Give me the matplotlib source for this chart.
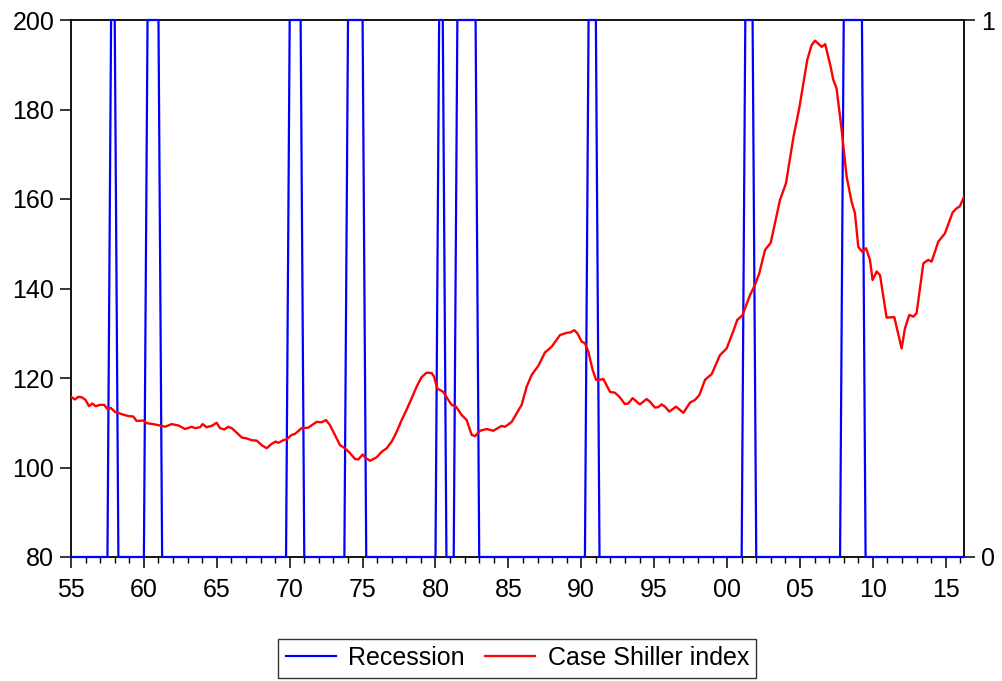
import numpy as np
import matplotlib
matplotlib.use('Agg')
import matplotlib.pyplot as plt
from matplotlib.lines import Line2D
from matplotlib.ticker import FixedLocator, MultipleLocator, FuncFormatter

plt.rcParams['font.family'] = ['Liberation Sans', 'DejaVu Sans']

# recession quarters (indicator = 1), as (first, last) quarter in decimal years
REC_START = [1957.75, 1960.25, 1970.0, 1974.0, 1980.25, 1981.5, 1990.5, 2001.25, 2008.0]
REC_END = [1958.0, 1961.0, 1970.75, 1975.0, 1980.5, 1982.75, 1991.0, 2001.75, 2009.25]

# Case Shiller index
CS_YEAR = [
    1955.0, 1955.27, 1955.5, 1955.73, 1956.0, 1956.23, 1956.46, 1956.69, 1956.99,
    1957.28, 1957.51, 1957.74, 1958.02, 1958.24, 1958.59, 1958.93, 1959.27, 1959.5,
    1959.96, 1960.19, 1960.64, 1961.22, 1961.45, 1961.9, 1962.36, 1962.82, 1963.28,
    1963.5, 1963.85, 1964.03, 1964.3, 1964.65, 1964.99, 1965.22, 1965.51, 1965.79,
    1966.02, 1966.36, 1966.71, 1967.05, 1967.39, 1967.74, 1968.08, 1968.42, 1968.77,
    1969.04, 1969.22, 1969.56, 1969.79, 1970.14, 1970.36, 1970.82, 1971.27, 1971.85,
    1972.19, 1972.49, 1972.76, 1973.1, 1973.45, 1973.79, 1974.14, 1974.48, 1974.71,
    1975.0, 1975.23, 1975.51, 1975.97, 1976.31, 1976.65, 1977.0, 1977.34, 1977.68,
    1978.03, 1978.37, 1978.71, 1979.05, 1979.4, 1979.74, 1979.9, 1980.12, 1980.53,
    1980.88, 1981.11, 1981.41, 1981.8, 1982.14, 1982.48, 1982.71, 1983.05, 1983.51,
    1983.96, 1984.54, 1984.77, 1985.23, 1985.57, 1985.91, 1986.26, 1986.6, 1987.05,
    1987.51, 1987.97, 1988.54, 1989.0, 1989.27, 1989.52, 1989.73, 1990.03, 1990.25,
    1990.48, 1990.78, 1991.01, 1991.28, 1991.51, 1991.97, 1992.31, 1992.61, 1992.99,
    1993.22, 1993.52, 1994.02, 1994.48, 1994.71, 1995.05, 1995.28, 1995.51, 1995.74,
    1996.04, 1996.5, 1997.0, 1997.46, 1997.8, 1998.1, 1998.49, 1998.95, 1999.51,
    1999.97, 2000.43, 2000.7, 2001.05, 2001.57, 2001.91, 2002.21, 2002.6, 2002.99,
    2003.63, 2004.04, 2004.54, 2004.95, 2005.5, 2005.8, 2006.03, 2006.49, 2006.73,
    2007.1, 2007.28, 2007.51, 2007.86, 2008.2, 2008.54, 2008.77, 2009.0, 2009.27,
    2009.53, 2009.8, 2009.98, 2010.26, 2010.49, 2010.94, 2011.47, 2011.97, 2012.2,
    2012.5, 2012.77, 2013.0, 2013.46, 2013.8, 2014.03, 2014.49, 2014.94, 2015.47,
    2015.74, 2015.97, 2016.25,
]
CS_VALUE = [
    115.8, 115.2, 115.8, 115.7, 115.1, 113.7, 114.3, 113.7, 114.0,
    114.0, 113.0, 113.3, 112.4, 112.2, 111.8, 111.5, 111.4, 110.4,
    110.5, 109.9, 109.7, 109.3, 109.1, 109.7, 109.4, 108.6, 109.1,
    108.8, 109.0, 109.7, 109.0, 109.3, 110.0, 108.8, 108.5, 109.1,
    108.8, 107.8, 106.7, 106.5, 106.1, 106.0, 105.0, 104.3, 105.3,
    105.8, 105.5, 106.1, 106.3, 107.3, 107.5, 108.8, 108.9, 110.2,
    110.1, 110.6, 109.5, 107.3, 105.0, 104.3, 103.2, 101.9, 101.8,
    102.9, 102.1, 101.5, 102.3, 103.5, 104.3, 105.8, 108.0, 110.6,
    113.0, 115.5, 118.1, 120.2, 121.2, 121.1, 120.3, 117.7, 116.9,
    115.1, 114.0, 113.6, 111.7, 110.6, 107.3, 107.0, 108.2, 108.6,
    108.2, 109.3, 109.1, 110.2, 112.1, 114.0, 118.1, 120.7, 122.7,
    125.7, 127.0, 129.6, 130.1, 130.2, 130.7, 130.0, 128.1, 127.8,
    125.9, 121.8, 119.6, 119.6, 119.8, 116.9, 116.7, 115.8, 114.2,
    114.3, 115.5, 114.1, 115.3, 114.7, 113.4, 113.5, 114.1, 113.6,
    112.5, 113.6, 112.2, 114.5, 115.1, 116.2, 119.6, 120.9, 125.1,
    126.6, 130.5, 133.0, 134.0, 138.5, 140.8, 143.4, 148.6, 150.2,
    159.8, 163.5, 173.6, 180.3, 191.1, 194.4, 195.4, 194.0, 194.6,
    189.6, 186.7, 184.7, 175.4, 165.0, 159.4, 156.8, 149.3, 148.2,
    149.0, 146.4, 141.9, 143.8, 143.0, 133.5, 133.6, 126.6, 131.1,
    134.1, 133.7, 134.5, 145.6, 146.4, 146.0, 150.5, 152.3, 157.0,
    157.9, 158.4, 160.5,
]

X_START, X_END = 1955.0, 2016.25

# quarterly recession dummy built from the start/end lists
quarters = np.arange(X_START, X_END + 0.001, 0.25)
recession = np.zeros(len(quarters))
for s, e in zip(REC_START, REC_END):
    recession[(quarters >= s - 1e-6) & (quarters <= e + 1e-6)] = 1

fig = plt.figure(figsize=(10.03, 6.81), dpi=100)
ax = fig.add_axes([71/1003, 1 - 557/681, (964 - 71)/1003, (557 - 20)/681])
ax2 = ax.twinx()

# blue on the lower (right-scale) axes, above its spines; red axes on top
ax2.plot(quarters, recession, color='#0000ff', lw=1.6, clip_on=False, zorder=5)
ax.plot(CS_YEAR, CS_VALUE, color='#ff0000', lw=1.7)
ax.set_zorder(ax2.get_zorder() + 1)
ax.patch.set_visible(False)
for sp in ax.spines.values():
    sp.set_visible(False)
for sp in ax2.spines.values():
    sp.set_linewidth(1.3)
    sp.set_color('black')

ax.set_xlim(X_START, X_END)
ax.set_ylim(80, 200)
ax2.set_ylim(0, 1)
ax.set_yticks([80, 100, 120, 140, 160, 180, 200])
ax2.set_yticks([0, 1])
ax2.set_yticklabels(['0', '1'])

ax.xaxis.set_major_locator(FixedLocator(np.arange(1955, 2016, 5)))
ax.xaxis.set_minor_locator(MultipleLocator(1))
ax.xaxis.set_major_formatter(FuncFormatter(lambda v, p: f'{int(round(v)) % 100:02d}'))

ax.tick_params(axis='both', which='major', direction='out', length=8,
               width=1.1, labelsize=18, pad=4)
ax.tick_params(axis='x', which='major', pad=7)
ax.tick_params(axis='x', which='minor', direction='out', length=4, width=1.0)
ax2.tick_params(axis='y', which='major', direction='out', length=8,
                width=1.1, labelsize=18, pad=4)

handles = [Line2D([], [], color='#0000ff', lw=1.6),
           Line2D([], [], color='#ff0000', lw=1.6)]
leg = fig.legend(handles, ['Recession', 'Case Shiller index'], loc='center',
                 bbox_to_anchor=(517.5/1003, 1 - 658/681), ncol=2, fontsize=18,
                 frameon=True, fancybox=False, handlelength=2.0,
                 handletextpad=0.5, columnspacing=0.8, borderpad=0.3,
                 borderaxespad=0)
leg.get_frame().set_edgecolor('black')
leg.get_frame().set_linewidth(1.0)

fig.savefig('out.png', dpi=100)
